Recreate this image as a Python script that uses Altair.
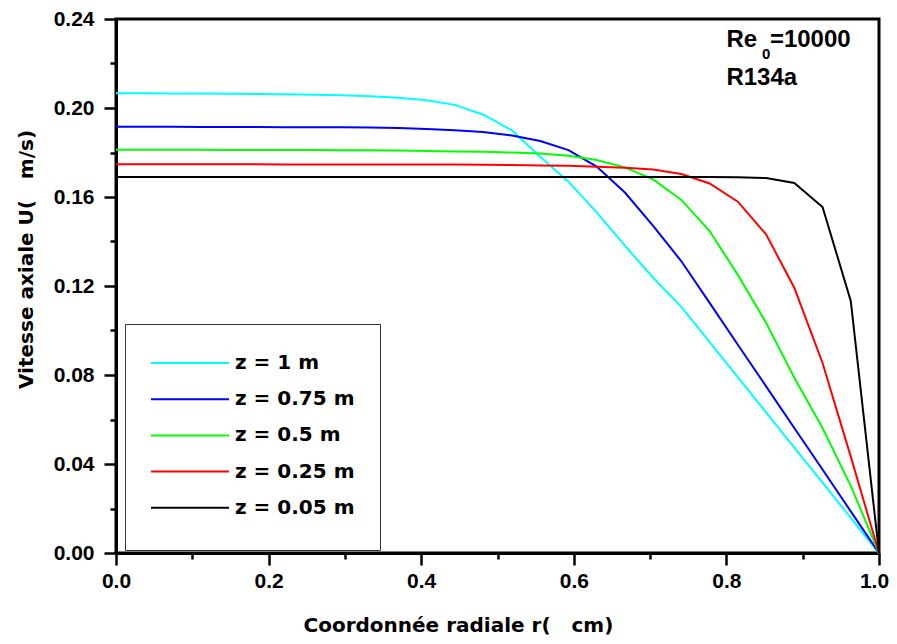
import altair as alt
import pandas as pd

# Radial coordinate (grid nodes)
r_cm = [0.000, 0.037, 0.074, 0.111, 0.148, 0.185, 0.222, 0.259, 0.296, 0.333,
        0.370, 0.407, 0.444, 0.481, 0.519, 0.556, 0.593, 0.630, 0.667, 0.704,
        0.741, 0.778, 0.815, 0.852, 0.889, 0.926, 0.963, 1.000]

u_z1 = [0.2066, 0.2066, 0.2065, 0.2065, 0.2064, 0.2063, 0.2062, 0.2060, 0.2057, 0.2053,
        0.2046, 0.2035, 0.2014, 0.1971, 0.1899, 0.1781, 0.1669, 0.1531, 0.1381, 0.1237,
        0.1106, 0.0948, 0.0790, 0.0632, 0.0474, 0.0316, 0.0158, 0.0]
u_z075 = [0.1916, 0.1916, 0.1916, 0.1915, 0.1915, 0.1915, 0.1914, 0.1914, 0.1913, 0.1912,
          0.1910, 0.1906, 0.1900, 0.1892, 0.1876, 0.1852, 0.1811, 0.1737, 0.1620, 0.1470,
          0.1311, 0.1124, 0.0936, 0.0749, 0.0562, 0.0375, 0.0187, 0.0]
u_z05 = [0.1812, 0.1812, 0.1812, 0.1812, 0.1811, 0.1811, 0.1811, 0.1811, 0.1810, 0.1810,
         0.1809, 0.1807, 0.1805, 0.1803, 0.1800, 0.1796, 0.1785, 0.1766, 0.1733, 0.1679,
         0.1587, 0.1447, 0.1250, 0.1035, 0.0788, 0.0562, 0.0302, 0.0]
u_z025 = [0.1747, 0.1747, 0.1747, 0.1747, 0.1747, 0.1747, 0.1746, 0.1746, 0.1746, 0.1746,
          0.1746, 0.1746, 0.1746, 0.1745, 0.1744, 0.1742, 0.1740, 0.1736, 0.1731, 0.1724,
          0.1703, 0.1661, 0.1579, 0.1432, 0.1192, 0.0854, 0.0433, 0.0]
u_z005 = [0.1690, 0.1690, 0.1690, 0.1690, 0.1690, 0.1690, 0.1690, 0.1690, 0.1690, 0.1690,
          0.1690, 0.1690, 0.1690, 0.1690, 0.1690, 0.1690, 0.1690, 0.1690, 0.1690, 0.1690,
          0.1690, 0.1690, 0.1689, 0.1685, 0.1663, 0.1555, 0.1133, 0.0]

series_labels = ["z = 1 m", "z = 0.75 m", "z = 0.5 m", "z = 0.25 m", "z = 0.05 m"]
series_colors = ["#00FFFF", "#0000FF", "#00FF00", "#FF0000", "#000000"]
series_values = [u_z1, u_z075, u_z05, u_z025, u_z005]

x_major_ticks = [0.0, 0.2, 0.4, 0.6, 0.8, 1.0]
x_minor_ticks = [0.1, 0.3, 0.5, 0.7, 0.9]
y_major_ticks = [0.00, 0.04, 0.08, 0.12, 0.16, 0.20, 0.24]
y_minor_ticks = [0.02, 0.06, 0.10, 0.14, 0.18, 0.22]

x_title = "Coordonnée radiale r(\u00a0\u00a0\u00a0cm)"
y_title = "Vitesse axiale U(\u00a0\u00a0\u00a0m/s)"

ann_text = ["Re", "=10000", "R134a"]
ann_x = [0.800, 0.857, 0.800]
ann_y = [0.2276, 0.2276, 0.2103]
sub_text = ["0"]
sub_x = [0.8467]
sub_y = [0.2222]

FONT = "Liberation Sans"
WIDE = "DejaVu Sans"

rows = []
for lab, vals in zip(series_labels, series_values):
    for i, (r, u) in enumerate(zip(r_cm, vals)):
        rows.append({"r": r, "U": u, "serie": lab, "ordre": i})
df = pd.DataFrame(rows)

x_scale = alt.Scale(domain=[0, 1], nice=False, zero=False)
y_scale = alt.Scale(domain=[0, 0.24], nice=False)

common = dict(tickWidth=2.5, tickColor="black", grid=False, ticks=True)

x_axis = alt.Axis(
    orient="bottom", values=x_major_ticks, format=".1f", tickSize=12,
    domainWidth=3, domainColor="black",
    labelFont=FONT, labelFontSize=21, labelFontWeight="bold", labelColor="black",
    labelPadding=5, labelFlush=False,
    labelOffset={"condition": {"test": "datum.value >= 0.99", "value": -5}, "value": 0},
    title=x_title,
    titleFont=WIDE, titleFontSize=20, titleFontWeight="bold", titleColor="black",
    titleX=187, titleY=78, titleAlign="left", titleBaseline="alphabetic",
    **common,
)
y_axis = alt.Axis(
    orient="left", values=y_major_ticks, format=".2f", tickSize=12,
    domainWidth=3, domainColor="black",
    labelFont=FONT, labelFontSize=21, labelFontWeight="bold", labelColor="black",
    labelPadding=10, labelFlush=False,
    title=y_title,
    titleFont=WIDE, titleFontSize=20, titleFontWeight="bold", titleColor="black",
    titleAngle=270, titleX=-84, titleY=240, titleAlign="center", titleBaseline="alphabetic",
    **common,
)
x_minor_axis = alt.Axis(orient="bottom", values=x_minor_ticks, tickSize=6, labels=False,
                        domain=False, title=None, **common)
y_minor_axis = alt.Axis(orient="left", values=y_minor_ticks, tickSize=6, labels=False,
                        domain=False, title=None, **common)

lines = alt.Chart(df).mark_line(strokeWidth=2).encode(
    x=alt.X("r:Q", scale=x_scale, axis=x_axis),
    y=alt.Y("U:Q", scale=y_scale, axis=y_axis),
    color=alt.Color(
        "serie:N",
        scale=alt.Scale(domain=series_labels, range=series_colors),
        legend=alt.Legend(
            orient="none", legendX=9, legendY=305,
            title="\u00a0", titleOrient="bottom", titleFontSize=1, titlePadding=6,
            symbolType="M-1,0H5", symbolSize=676, symbolStrokeWidth=2,
            labelFont=WIDE, labelFontSize=20, labelFontWeight="bold", labelColor="black",
            labelOffset=57, padding=25, rowPadding=12.2,
            strokeColor="#333333", fillColor="white", labelLimit=0,
        ),
    ),
    order="ordre:Q",
)

ann_df = pd.DataFrame({"t": ann_text, "x": ann_x, "y": ann_y})
ann = alt.Chart(ann_df).mark_text(
    font=FONT, fontSize=24, fontWeight="bold", color="black",
    align="left", baseline="alphabetic",
).encode(
    x=alt.X("x:Q", scale=x_scale, axis=x_minor_axis),
    y=alt.Y("y:Q", scale=y_scale, axis=y_minor_axis),
    text="t:N",
)

sub_df = pd.DataFrame({"t": sub_text, "x": sub_x, "y": sub_y})
sub = alt.Chart(sub_df).mark_text(
    font=FONT, fontSize=15, fontWeight="bold", color="black",
    align="left", baseline="alphabetic",
).encode(
    x=alt.X("x:Q", scale=x_scale, axis=None),
    y=alt.Y("y:Q", scale=y_scale, axis=None),
    text="t:N",
)

chart = alt.layer(lines, ann, sub).resolve_axis(x="independent", y="independent").properties(
    width=763, height=534,
    padding={"left": 108, "top": 11, "right": 10, "bottom": 83},
    autosize=alt.AutoSizeParams(type="none"),
    background="white",
).configure_view(stroke="black", strokeWidth=3)

chart.save("out.html", embed_options={"renderer": "svg", "actions": False})
